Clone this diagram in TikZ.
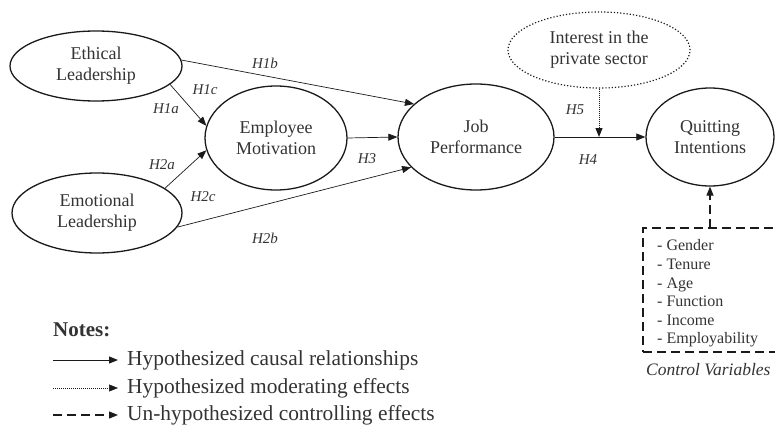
\documentclass[tikz,border=0pt]{standalone}
\usepackage{fontspec}
\setmainfont{LiberationSerif}[Extension=.ttf, UprightFont=*-Regular, BoldFont=*-Bold, ItalicFont=*-Italic, BoldItalicFont=*-BoldItalic]
\usepackage{tikz}
\usetikzlibrary{shapes.geometric,arrows.meta}
\definecolor{ink}{HTML}{1A1A1A}
\definecolor{txt}{HTML}{333333}
\tikzset{
  construct/.style={draw=ink, ellipse, line width=1.3pt, inner sep=0pt, text=txt, align=center, font=\fontsize{18}{21}\selectfont},
  moder/.style={construct, line width=1.2pt, dotted},
  causal/.style={draw=ink, line width=0.7pt, -{Triangle[length=9pt,width=7pt]}},
  modarrow/.style={draw=ink, line width=1pt, densely dotted, -{Triangle[length=9pt,width=7pt]}},
  ctrl/.style={draw=ink, line width=1.1pt, dash pattern=on 9pt off 5pt, -{Triangle[length=9pt,width=7pt]}},
  hyp/.style={text=txt, font=\fontsize{15}{17}\selectfont\itshape, inner sep=0pt},
  lst/.style={text=txt, font=\fontsize{16}{18.6}\selectfont, align=left, inner sep=0pt},
  legtxt/.style={text=txt, font=\fontsize{21.4}{24}\selectfont, anchor=west, inner xsep=9pt, inner ysep=0pt},
}

\begin{document}
\begin{tikzpicture}[x=1pt,y=-1pt]
  \useasboundingbox (0,0) rectangle (775,428);
  \clip (0,0) rectangle (775,428);

  % constructs
  \node[construct, minimum width=172pt, minimum height=70pt] (eth) at (96,66) {Ethical\\Leadership};
  \node[construct, minimum width=170pt, minimum height=80pt] (emo) at (97,213) {Emotional\\Leadership};
  \node[construct, minimum width=142pt, minimum height=104pt] (em) at (276,138) {Employee\\Motivation};
  \node[construct, minimum width=156pt, minimum height=106pt] (jp) at (476,137) {Job\\Performance};
  \node[construct, minimum width=128pt, minimum height=98pt] (qi) at (710,137) {Quitting\\Intentions};
  \node[moder, minimum width=182pt, minimum height=76pt] (int) at (599,50) {Interest in the\\private sector};

  % hypothesized paths
  \draw[causal] (eth.-14) -- (em.170);
  \draw[causal] (eth.4) -- (jp.152);
  \draw[causal] (emo.20) -- (em.190);
  \draw[causal] (emo.-10) -- (jp.205);
  \draw[causal] (em.east) -- (jp.west);
  \draw[causal] (jp) -- (qi);

  % moderation onto H4
  \coordinate (mod) at (599,137);
  \draw[modarrow] (int.south) -- (mod);

  \node[hyp] (h1a) at (166,109) {H1a};
  \node[hyp] (h1b) at (265,63) {H1b};
  \node[hyp] (h1c) at (205,90) {H1c};
  \node[hyp] (h2a) at (162,165) {H2a};
  \node[hyp] (h2c) at (203,197) {H2c};
  \node[hyp] (h2b) at (265,238) {H2b};
  \node[hyp] (h3) at (367,159) {H3};
  \node[hyp] (h4) at (588,160) {H4};
  \node[hyp] (h5) at (575,110) {H5};

  % control variables
  \node[draw=ink, line width=1.1pt, dash pattern=on 9pt off 5pt, minimum width=150pt, minimum height=124pt, inner sep=0pt] (cvbox) at (718,290) {};
  \coordinate (cvtop) at (710,228);
  \node[lst, anchor=west] (cvlist) at (657,293.5) {- Gender\\- Tenure\\- Age\\- Function\\- Income\\- Employability};
  \node[lst, anchor=west, font=\fontsize{17.5}{20}\selectfont\itshape] (cvlab) at (646,370) {Control Variables};
  \draw[ctrl] (cvtop) -- (qi.south);

  % legend
  \node[text=txt, anchor=west, inner sep=0pt, font=\fontsize{21}{24}\selectfont\bfseries] (notes) at (53,330) {Notes:};
  \coordinate (c1) at (53,360);
  \coordinate (c2) at (53,388);
  \coordinate (c3) at (53,415);
  \node[legtxt] (leg1) at (118,360) {Hypothesized causal relationships};
  \node[legtxt] (leg2) at (118,388) {Hypothesized moderating effects};
  \node[legtxt] (leg3) at (118,415) {Un-hypothesized controlling effects};
  \draw[causal, line width=1pt] (c1) -- (leg1.west);
  \draw[modarrow, line width=0.6pt] (c2) -- (leg2.west);
  \draw[ctrl] (c3) -- (leg3.west);
\end{tikzpicture}
\end{document}
